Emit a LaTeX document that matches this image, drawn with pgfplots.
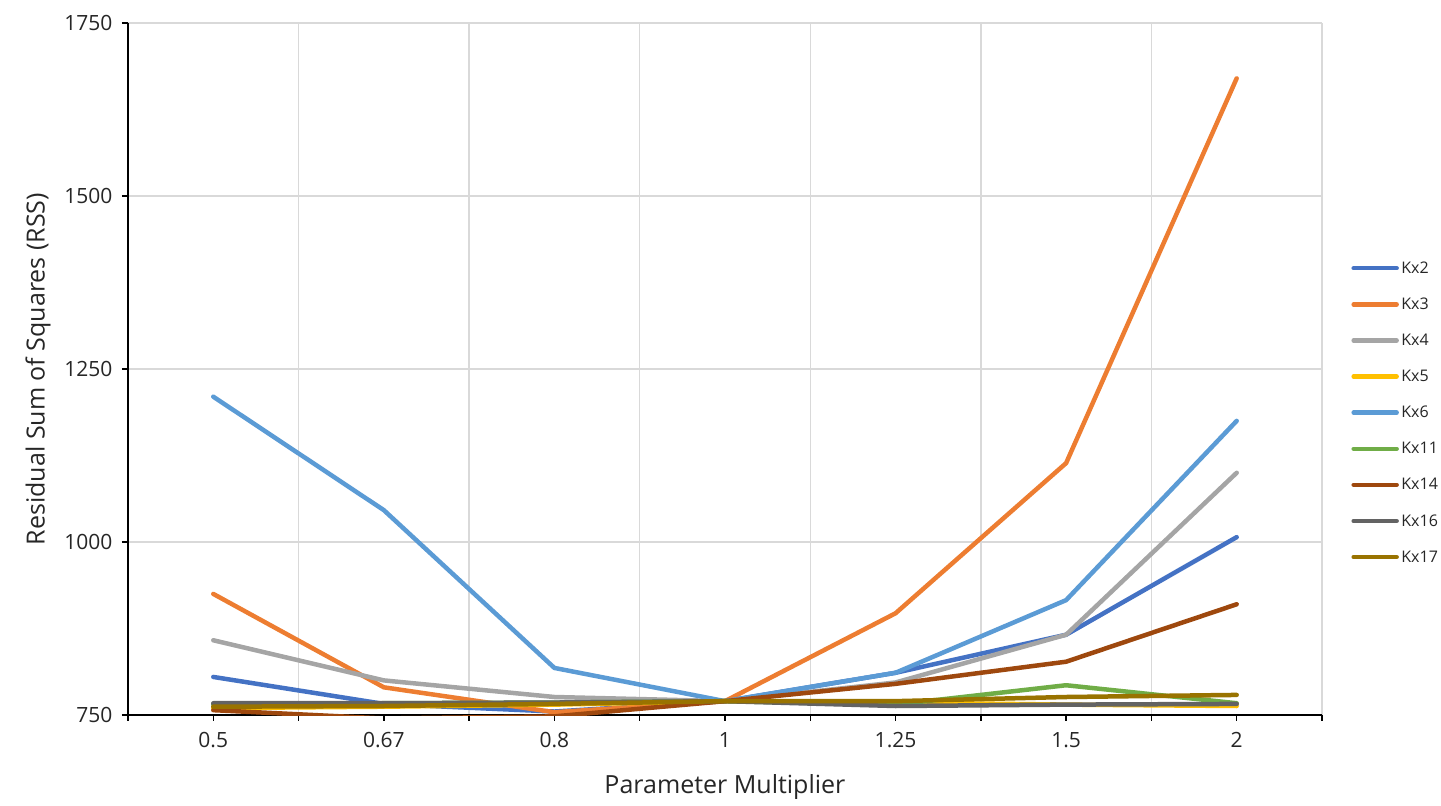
\documentclass[border=0pt]{standalone}
\usepackage{pgfplots}
\pgfplotsset{compat=1.18}
\usepackage{fontspec}
\setmainfont{Open Sans}
\definecolor{c2}{HTML}{4472C4}
\definecolor{c3}{HTML}{ED7D31}
\definecolor{c4}{HTML}{A5A5A5}
\definecolor{c5}{HTML}{FFC000}
\definecolor{c6}{HTML}{5B9BD5}
\definecolor{c11}{HTML}{70AD47}
\definecolor{c14}{HTML}{9E480E}
\definecolor{c16}{HTML}{636363}
\definecolor{c17}{HTML}{997300}
\definecolor{gridc}{HTML}{D9D9D9}
\begin{document}
\begin{tikzpicture}
\begin{axis}[
  at={(0,0)}, anchor=south west,
  scale only axis,
  width=1194bp, height=692bp,
  xmin=-0.5, xmax=6.5,
  ymin=750, ymax=1750,
  xtick={0,1,2,3,4,5,6},
  xticklabels={0.5,0.67,0.8,1,1.25,1.5,2},
  minor xtick={-0.5,0.5,1.5,2.5,3.5,4.5,5.5,6.5},
  ytick={750,1000,1250,1500,1750},
  axis x line*=bottom, axis y line*=left,
  axis line style={black, line width=1.5bp, -},
  xminorgrids, ymajorgrids,
  minor grid style={gridc, line width=1.5bp},
  major grid style={gridc, line width=1.5bp},
  tick align=outside,
  major tick length=6bp, minor tick length=6bp,
  tick style={black, line width=1.5bp},
  /pgf/number format/assume math mode=true,
  /pgf/number format/1000 sep={},
  ticklabel style={font=\fontsize{21bp}{24bp}\selectfont, text=black!85},
  yticklabel style={xshift=-6bp},
  xticklabel style={yshift=-8bp},
  xlabel={Parameter Multiplier},
  ylabel={Residual Sum of Squares (RSS)},
  label style={font=\fontsize{25bp}{28bp}\selectfont, text=black!85},
  xlabel style={at={(rel axis cs:0.5,0)}, anchor=center, yshift=-72bp},
  ylabel style={at={(rel axis cs:0,0.5)}, anchor=center, yshift=90bp},
  legend style={draw=none, at={(rel axis cs:1.0245,0.437)}, anchor=west,
    font=\fontsize{16bp}{18bp}\selectfont, row sep=23.1bp, inner sep=0pt,
    nodes={inner xsep=2.5bp, inner ysep=0pt, text=black!85}},
  legend cell align=left,
  legend image code/.code={\draw[#1, line width=4.5bp, line cap=round] (0bp,0bp) -- (43bp,0bp);},
  every axis plot/.append style={line width=4.5bp, line cap=round, line join=round},
]
\addplot[c2]  coordinates {(0,805) (1,766) (2,755) (3,770) (4,811) (5,866) (6,1007)};
\addplot[c3]  coordinates {(0,925) (1,790) (2,754) (3,770) (4,897) (5,1114) (6,1670)};
\addplot[c4]  coordinates {(0,858) (1,800) (2,776) (3,770) (4,797) (5,866) (6,1100)};
\addplot[c5]  coordinates {(0,760) (1,762) (2,765) (3,770) (4,768) (5,765) (6,763)};
\addplot[c6]  coordinates {(0,1210) (1,1046) (2,818) (3,770) (4,811) (5,916) (6,1175)};
\addplot[c11] coordinates {(0,765) (1,767) (2,768) (3,770) (4,765) (5,793) (6,767)};
\addplot[c14] coordinates {(0,757) (1,745) (2,748) (3,770) (4,795) (5,827) (6,910)};
\addplot[c16] coordinates {(0,767) (1,767) (2,768) (3,770) (4,763) (5,765) (6,766)};
\addplot[c17] coordinates {(0,762) (1,763) (2,766) (3,770) (4,770) (5,776) (6,779)};
\legend{Kx2,Kx3,Kx4,Kx5,Kx6,Kx11,Kx14,Kx16,Kx17}
\end{axis}
\pgfresetboundingbox
\path[use as bounding box] (-128bp,-91bp) rectangle (1313bp,715bp);
\end{tikzpicture}
\end{document}
